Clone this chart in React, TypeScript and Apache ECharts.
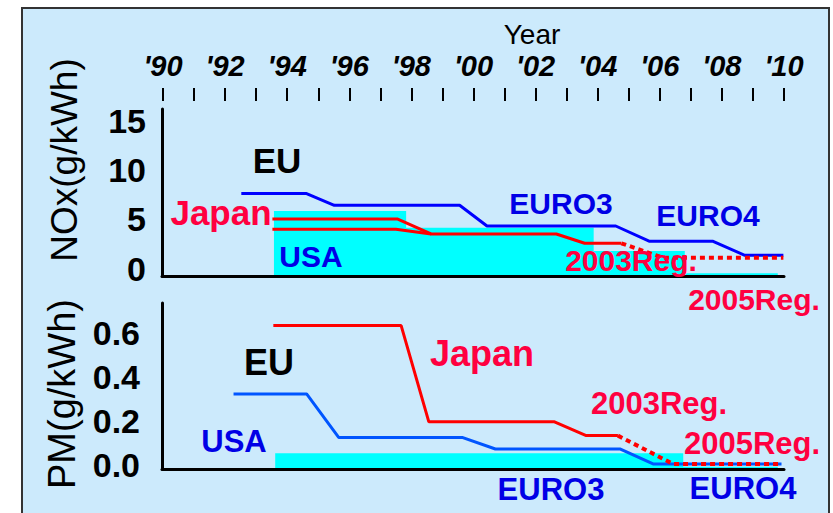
import React, { useEffect, useRef } from "react";
import * as echarts from "echarts";

// Year axis (shared by both panels)
const yearMin = 1990;
const yearMax = 2010;
const yearLabels = ["'90", "'92", "'94", "'96", "'98", "'00", "'02", "'04", "'06", "'08", "'10"];

// NOx limits, g/kWh  [year, value]
const noxTicks = [0, 5, 10, 15];
const noxEU = [
  [1992.55, 8.4], [1994.63, 8.4], [1995.54, 7.2], [1999.57, 7.2], [2000.45, 5.09],
  [2004.59, 5.09], [2005.68, 3.53], [2007.72, 3.53], [2008.74, 2.11], [2009.98, 2.11],
];
const noxJapanUpper = [
  [1993.55, 5.8], [1997.58, 5.8], [1998.65, 4.28], [2002.68, 4.28], [2003.59, 3.33], [2004.77, 3.33],
];
const noxJapanLower = [[1993.55, 4.76], [1997.52, 4.76], [1998.65, 4.28]];
const noxJapan2005 = [[2004.77, 3.33], [2006.11, 1.86], [2009.98, 1.86]];
const noxUSA = [[1993.6, 6.62], [1997.85, 4.92], [2003.88, 2.55], [2006.81, 0.27], [2009.8, 0.27]];

// PM limits, g/kWh  [year, value]
const pmTicks = [0, 0.2, 0.4, 0.6];
const pmEU = [
  [1992.3, 0.342], [1994.65, 0.342], [1995.68, 0.144], [1999.65, 0.144], [2000.72, 0.091],
  [2004.74, 0.091], [2005.79, 0.023], [2009.92, 0.023],
];
const pmJapan = [
  [1993.58, 0.653], [1997.69, 0.653], [1998.58, 0.215], [2002.62, 0.215], [2003.64, 0.152], [2004.66, 0.152],
];
const pmJapan2005 = [[2004.66, 0.152], [2006.43, 0.023], [2009.92, 0.023]];
const pmUSA = [[1993.64, 0.072], [2006.76, 0.01], [2009.8, 0.01]];

const FONT = "'Liberation Sans', Arial, Helvetica, sans-serif";
const RED_TEXT = "#ff0040";
const BLUE_TEXT = "#0000e6";

function label(text: string, x: number, y: number, size: number, color: string, weight = "bold") {
  return {
    type: "text",
    x,
    y,
    z: 100,
    style: {
      text,
      fill: color,
      font: `${weight} ${size}px ${FONT}`,
      align: "center",
      verticalAlign: "middle",
    },
  };
}

export default function App() {
  const ref = useRef<HTMLDivElement>(null);

  useEffect(() => {
    if (!ref.current) return;
    const chart = echarts.init(ref.current, undefined, { renderer: "svg" });

    const axisLine = { show: true, lineStyle: { color: "#000", width: 3 } };
    const lineSeries = (
      data: number[][],
      xi: number,
      color: string,
      extra: Record<string, unknown> = {}
    ) => ({
      type: "line",
      xAxisIndex: xi,
      yAxisIndex: xi,
      data,
      showSymbol: false,
      symbol: "none",
      lineStyle: { color, width: 3 },
      z: 5,
      ...extra,
    });

    chart.setOption({
      animation: false,
      backgroundColor: "transparent",
      grid: [
        { left: 162, width: 622, top: 109, height: 167 },
        { left: 162, width: 622, top: 303, height: 166 },
        { left: 163, width: 621, top: 100, height: 1 },
      ],
      xAxis: [
        {
          gridIndex: 0, type: "value", min: yearMin, max: yearMax, z: 10,
          axisLine, axisTick: { show: false }, axisLabel: { show: false }, splitLine: { show: false },
        },
        {
          gridIndex: 1, type: "value", min: yearMin, max: yearMax, z: 10,
          axisLine, axisTick: { show: false }, axisLabel: { show: false }, splitLine: { show: false },
        },
        {
          gridIndex: 2, type: "value", min: yearMin, max: yearMax, interval: 1, position: "top",
          axisLine: { show: false },
          axisTick: { show: true, length: 13, lineStyle: { color: "#000", width: 2 } },
          axisLabel: {
            margin: 20,
            color: "#000",
            fontFamily: FONT,
            fontSize: 29,
            fontWeight: "bold",
            fontStyle: "italic",
            formatter: (v: number) => ((v - yearMin) % 2 === 0 ? yearLabels[(v - yearMin) / 2] : ""),
          },
          splitLine: { show: false },
        },
      ],
      yAxis: [
        {
          gridIndex: 0, type: "value", min: 0, max: 17,
          axisLine, axisTick: { show: false }, splitLine: { show: false },
          axisLabel: {
            customValues: noxTicks,
            margin: 16,
            verticalAlign: "bottom",
            lineHeight: 15,
            color: "#000",
            fontFamily: FONT,
            fontSize: 34,
            fontWeight: "bold",
          },
        },
        {
          gridIndex: 1, type: "value", min: 0, max: 0.756,
          axisLine, axisTick: { show: false }, splitLine: { show: false },
          axisLabel: {
            customValues: pmTicks,
            margin: 22,
            verticalAlign: "bottom",
            lineHeight: 9,
            color: "#000",
            fontFamily: FONT,
            fontSize: 34,
            fontWeight: "bold",
            formatter: (v: number) => v.toFixed(1),
          },
        },
        { gridIndex: 2, type: "value", show: false },
      ],
      series: [
        // NOx panel
        lineSeries(noxUSA, 0, "#00ffff", {
          step: "end",
          lineStyle: { width: 0, color: "#00ffff" },
          areaStyle: { color: "#00ffff", opacity: 1, origin: "start" },
          z: 3,
        }),
        lineSeries(noxEU, 0, "#0000ff"),
        lineSeries(noxJapanUpper, 0, "#ff0000"),
        lineSeries(noxJapanLower, 0, "#ff0000"),
        lineSeries(noxJapan2005, 0, "#ff0000", {
          lineStyle: { color: "#ff0000", width: 4, type: [5, 4] },
        }),
        // PM panel
        lineSeries(pmUSA, 1, "#00ffff", {
          step: "end",
          lineStyle: { width: 0, color: "#00ffff" },
          areaStyle: { color: "#00ffff", opacity: 1, origin: "start" },
          z: 3,
        }),
        lineSeries(pmEU, 1, "#0055ff"),
        lineSeries(pmJapan, 1, "#ff0000"),
        lineSeries(pmJapan2005, 1, "#ff0000", {
          lineStyle: { color: "#ff0000", width: 4, type: [5, 4] },
          z: 6,
        }),
      ],
      graphic: [
        label("Year", 532, 34, 28, "#000", "normal"),
        {
          type: "text", x: 64, y: 160, rotation: Math.PI / 2, z: 100,
          style: { text: "NOx(g/kWh)", fill: "#000", font: `normal 37px ${FONT}`, align: "center", verticalAlign: "middle" },
        },
        {
          type: "text", x: 62, y: 394, rotation: Math.PI / 2, z: 100,
          style: { text: "PM(g/kWh)", fill: "#000", font: `normal 38px ${FONT}`, align: "center", verticalAlign: "middle" },
        },
        // NOx panel annotations
        label("EU", 277, 160, 35, "#000"),
        label("Japan", 221, 212, 35, RED_TEXT),
        label("USA", 311, 256, 30, BLUE_TEXT),
        label("EURO3", 561, 203, 30, BLUE_TEXT),
        label("EURO4", 708, 215, 30, BLUE_TEXT),
        label("2003Reg.", 631, 260, 30, RED_TEXT),
        label("2005Reg.", 754, 299, 30, RED_TEXT),
        // PM panel annotations
        label("EU", 269, 362, 36, "#000"),
        label("Japan", 482, 353, 36, RED_TEXT),
        label("USA", 234, 441, 31, BLUE_TEXT),
        label("2003Reg.", 659, 403, 31, RED_TEXT),
        label("2005Reg.", 752, 443, 31, RED_TEXT),
        label("EURO3", 551, 489, 31, BLUE_TEXT),
        label("EURO4", 743, 488, 31, BLUE_TEXT),
      ],
    });

    return () => chart.dispose();
  }, []);

  return (
    <div
      style={{
        position: "fixed",
        left: 0,
        top: 0,
        width: 833,
        height: 513,
        overflow: "hidden",
        background: "#ffffff",
      }}
    >
      <div
        style={{
          position: "absolute",
          left: 21,
          top: 7,
          width: 805,
          height: 530,
          background: "#cceafc",
          border: "2px solid #333",
        }}
      />
      <div ref={ref} style={{ position: "absolute", left: 0, top: 0, width: 833, height: 513 }} />
    </div>
  );
}
